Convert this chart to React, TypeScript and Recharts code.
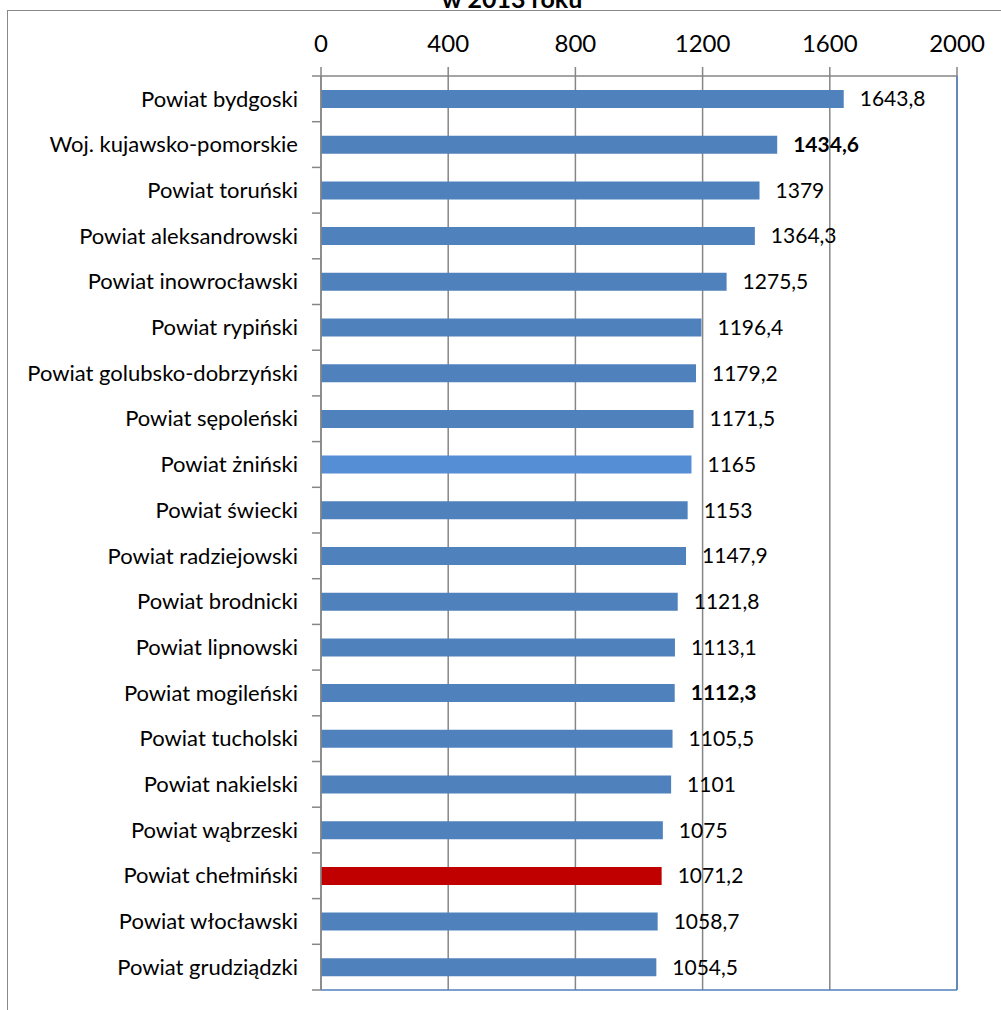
import { BarChart, Bar, XAxis, YAxis, CartesianGrid, Cell, LabelList, ReferenceLine } from "recharts";

const categories = [
  "Powiat bydgoski",
  "Woj. kujawsko-pomorskie",
  "Powiat toruński",
  "Powiat aleksandrowski",
  "Powiat inowrocławski",
  "Powiat rypiński",
  "Powiat golubsko-dobrzyński",
  "Powiat sępoleński",
  "Powiat żniński",
  "Powiat świecki",
  "Powiat radziejowski",
  "Powiat brodnicki",
  "Powiat lipnowski",
  "Powiat mogileński",
  "Powiat tucholski",
  "Powiat nakielski",
  "Powiat wąbrzeski",
  "Powiat chełmiński",
  "Powiat włocławski",
  "Powiat grudziądzki",
];
const values = [
  1643.8, 1434.6, 1379, 1364.3, 1275.5, 1196.4, 1179.2, 1171.5, 1165, 1153, 1147.9, 1121.8, 1113.1, 1112.3,
  1105.5, 1101, 1075, 1071.2, 1058.7, 1054.5,
];
const boldLabels = ["Woj. kujawsko-pomorskie", "Powiat mogileński"];
const xTicks = [0, 400, 800, 1200, 1600, 2000];

const FONT = "Lato, 'Open Sans', sans-serif";
const BLUE = "#4f81bd";
const GRID = "#868686";
const colorFor = (name: string) =>
  name === "Powiat chełmiński" ? "#c00000" : name === "Powiat żniński" ? "#558ed5" : BLUE;

const data = categories.map((name, i) => ({ name, value: values[i] }));

const BAND = (1010 - 76 - 20) / categories.length;

function CategoryTick(props: any) {
  const { x, y, payload, index } = props;
  const axisX = x + 23;
  const last = index === categories.length - 1;
  return (
    <g>
      <line x1={axisX - 9} x2={axisX} y1={y - BAND / 2} y2={y - BAND / 2} stroke={GRID} strokeWidth={1.5} />
      {last && <line x1={axisX - 9} x2={axisX} y1={y + BAND / 2} y2={y + BAND / 2} stroke={GRID} strokeWidth={1.5} />}
      <text x={x} y={y} dy="0.35em" textAnchor="end" fontSize={22} fontFamily={FONT} fill="#000">
        {payload.value}
      </text>
    </g>
  );
}

function ValueLabel(props: any) {
  const { x, y, width, height, value, index } = props;
  const bold = boldLabels.includes(categories[index]);
  return (
    <text
      x={x + width + 16}
      y={y + height / 2}
      dy="0.35em"
      fontSize={21}
      fontFamily={FONT}
      fontWeight={bold ? 700 : 400}
      fill="#000"
    >
      {String(value).replace(".", ",")}
    </text>
  );
}

export default function App() {
  return (
    <div style={{ position: "absolute", left: 0, top: 0, width: 1001, height: 1010, overflow: "hidden", background: "#fff" }}>
      <div
        style={{
          position: "absolute",
          left: 7,
          top: 10,
          width: 1100,
          height: 1100,
          borderTop: "1px solid #898989",
          borderLeft: "1px solid #898989",
        }}
      />
      <div
        style={{
          position: "absolute",
          left: 312,
          width: 400,
          top: -14,
          textAlign: "center",
          fontFamily: FONT,
          fontWeight: 700,
          fontSize: 25,
          lineHeight: "25px",
        }}
      >
        w 2013 roku
      </div>
      <div style={{ position: "absolute", left: 0, top: 0 }}>
        <BarChart
          width={1001}
          height={1010}
          data={data}
          layout="vertical"
          barSize={18}
          margin={{ top: 16, right: 44, bottom: 19, left: 8 }}
        >
          <CartesianGrid horizontal={false} stroke={GRID} strokeWidth={1.5} />
          <XAxis
            type="number"
            orientation="top"
            domain={[0, 2000]}
            ticks={xTicks}
            height={60}
            tickSize={9}
            tickMargin={15}
            axisLine={{ stroke: GRID, strokeWidth: 1.5 }}
            tickLine={{ stroke: GRID, strokeWidth: 1.5 }}
            tick={{ fontSize: 24, fontFamily: FONT, fill: "#000" }}
          />
          <XAxis
            xAxisId="bottom"
            type="number"
            orientation="bottom"
            domain={[0, 2000]}
            height={1}
            tick={false}
            tickLine={false}
            axisLine={{ stroke: BLUE, strokeWidth: 1.5 }}
          />
          <YAxis
            type="category"
            dataKey="name"
            width={313}
            tickSize={8}
            tickMargin={15}
            tickLine={false}
            interval={0}
            axisLine={{ stroke: GRID, strokeWidth: 1.5 }}
            tick={<CategoryTick />}
          />
          <ReferenceLine x={2000} stroke={BLUE} strokeWidth={1.5} />
          <Bar dataKey="value" isAnimationActive={false}>
            {data.map((d) => (
              <Cell key={d.name} fill={colorFor(d.name)} />
            ))}
            <LabelList dataKey="value" content={<ValueLabel />} />
          </Bar>
        </BarChart>
      </div>
    </div>
  );
}
